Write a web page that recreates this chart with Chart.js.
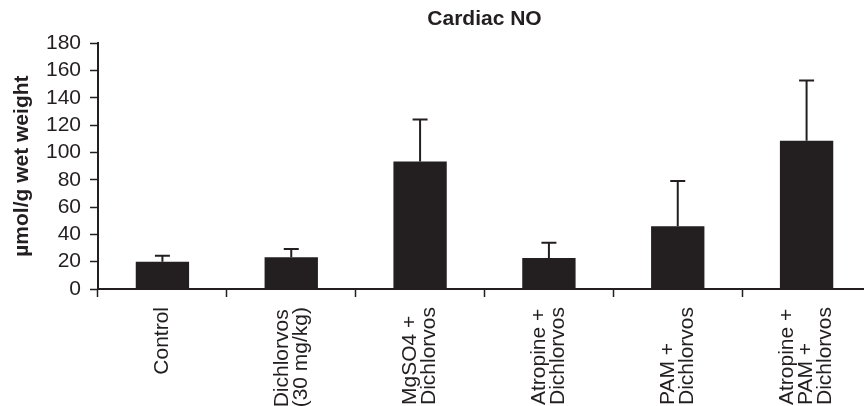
<!DOCTYPE html>
<html>
<head>
<meta charset="utf-8">
<script src="https://cdn.jsdelivr.net/npm/chart.js@4/dist/chart.umd.min.js"></script>
<style>
  html, body { margin: 0; padding: 0; background: #ffffff; overflow: hidden; }
  #wrap { width: 880px; height: 406px; }
</style>
</head>
<body>
<div id="wrap"><canvas id="chart" width="880" height="406"></canvas></div>
<script>
// Treatment groups (each entry is the lines of its axis label)
const groups = [
  ["Control"],
  ["Dichlorvos", "(30 mg/kg)"],
  ["MgSO4 +", "Dichlorvos"],
  ["Atropine +", "Dichlorvos"],
  ["PAM +", "Dichlorvos"],
  ["Atropine +", "PAM +", "Dichlorvos"]
];
// Cardiac NO, mean per group (µmol/g wet weight)
const meanNO = [20.0, 23.2, 93.4, 22.7, 45.9, 108.5];
// Upper error (SEM) per group
const errNO = [4.4, 6.1, 30.7, 11.2, 33.1, 44.2];
// Value axis range and step
const yMin = 0;
const yMax = 180;
const yStep = 20;

const INK = '#231f20';
const FONT = "'Liberation Sans', Arial, Helvetica, sans-serif";
const FONT_SIZE = 21;

// Upper error whiskers with caps, positioned through the chart scales
const errorBars = {
  id: 'errorBars',
  afterDatasetsDraw(chart) {
    const { ctx, scales: { x, y } } = chart;
    ctx.save();
    ctx.strokeStyle = INK;
    ctx.lineWidth = 2;
    meanNO.forEach((v, i) => {
      const cx = x.getPixelForValue(i);
      const y0 = y.getPixelForValue(v);
      const y1 = y.getPixelForValue(v + errNO[i]);
      ctx.beginPath();
      ctx.moveTo(cx, y0);
      ctx.lineTo(cx, y1);
      ctx.moveTo(cx - 7.5, y1);
      ctx.lineTo(cx + 7.5, y1);
      ctx.stroke();
    });
    ctx.restore();
  }
};

// Vertical group labels: block ends near the axis, lines start-aligned
const groupLabels = {
  id: 'groupLabels',
  afterDraw(chart) {
    const { ctx, scales: { x } } = chart;
    const lineGap = 19;
    const top = x.top + 18;
    ctx.save();
    ctx.font = FONT_SIZE + 'px ' + FONT;
    ctx.fillStyle = INK;
    ctx.textAlign = 'left';
    ctx.textBaseline = 'middle';
    groups.forEach((lines, i) => {
      const cx = x.getPixelForValue(i);
      const longest = Math.max(...lines.map(t => ctx.measureText(t).width));
      lines.forEach((t, j) => {
        const lx = cx + (j - (lines.length - 1) / 2) * lineGap;
        ctx.save();
        ctx.translate(lx, top + longest);
        ctx.rotate(-Math.PI / 2);
        ctx.fillText(t, 0, 0);
        ctx.restore();
      });
    });
    ctx.restore();
  }
};

new Chart(document.getElementById('chart'), {
  type: 'bar',
  data: {
    labels: groups,
    datasets: [{
      data: meanNO,
      backgroundColor: INK,
      borderWidth: 0,
      barPercentage: 0.414,
      categoryPercentage: 1.0
    }]
  },
  options: {
    responsive: false,
    animation: false,
    layout: { padding: { top: 0, left: 0, right: 9, bottom: 0 } },
    plugins: {
      legend: { display: false },
      tooltip: { enabled: false },
      title: {
        display: true,
        text: 'Cardiac NO',
        fullSize: false,
        color: INK,
        font: { family: FONT, size: FONT_SIZE, weight: 'bold' },
        padding: { top: 7, bottom: 11 }
      }
    },
    scales: {
      x: {
        offset: true,
        grid: {
          offset: true,
          drawOnChartArea: false,
          drawTicks: true,
          tickLength: 8,
          tickWidth: 1.5,
          tickColor: INK
        },
        border: { color: INK, width: 2 },
        ticks: { display: false },
        afterFit(scale) { scale.height = 117; }
      },
      y: {
        min: yMin,
        max: yMax,
        ticks: {
          stepSize: yStep,
          autoSkip: false,
          color: INK,
          padding: 9,
          font: { family: FONT, size: FONT_SIZE }
        },
        grid: {
          drawOnChartArea: false,
          drawTicks: true,
          tickLength: 8,
          tickWidth: 1.5,
          tickColor: INK
        },
        border: { color: INK, width: 2 },
        title: {
          display: true,
          text: 'µmol/g wet weight',
          color: INK,
          font: { family: FONT, size: FONT_SIZE, weight: 'bold' },
          padding: { top: 10, bottom: 0 }
        },
        afterFit(scale) { scale.width = 98; }
      }
    }
  },
  plugins: [errorBars, groupLabels]
});
</script>
</body>
</html>
